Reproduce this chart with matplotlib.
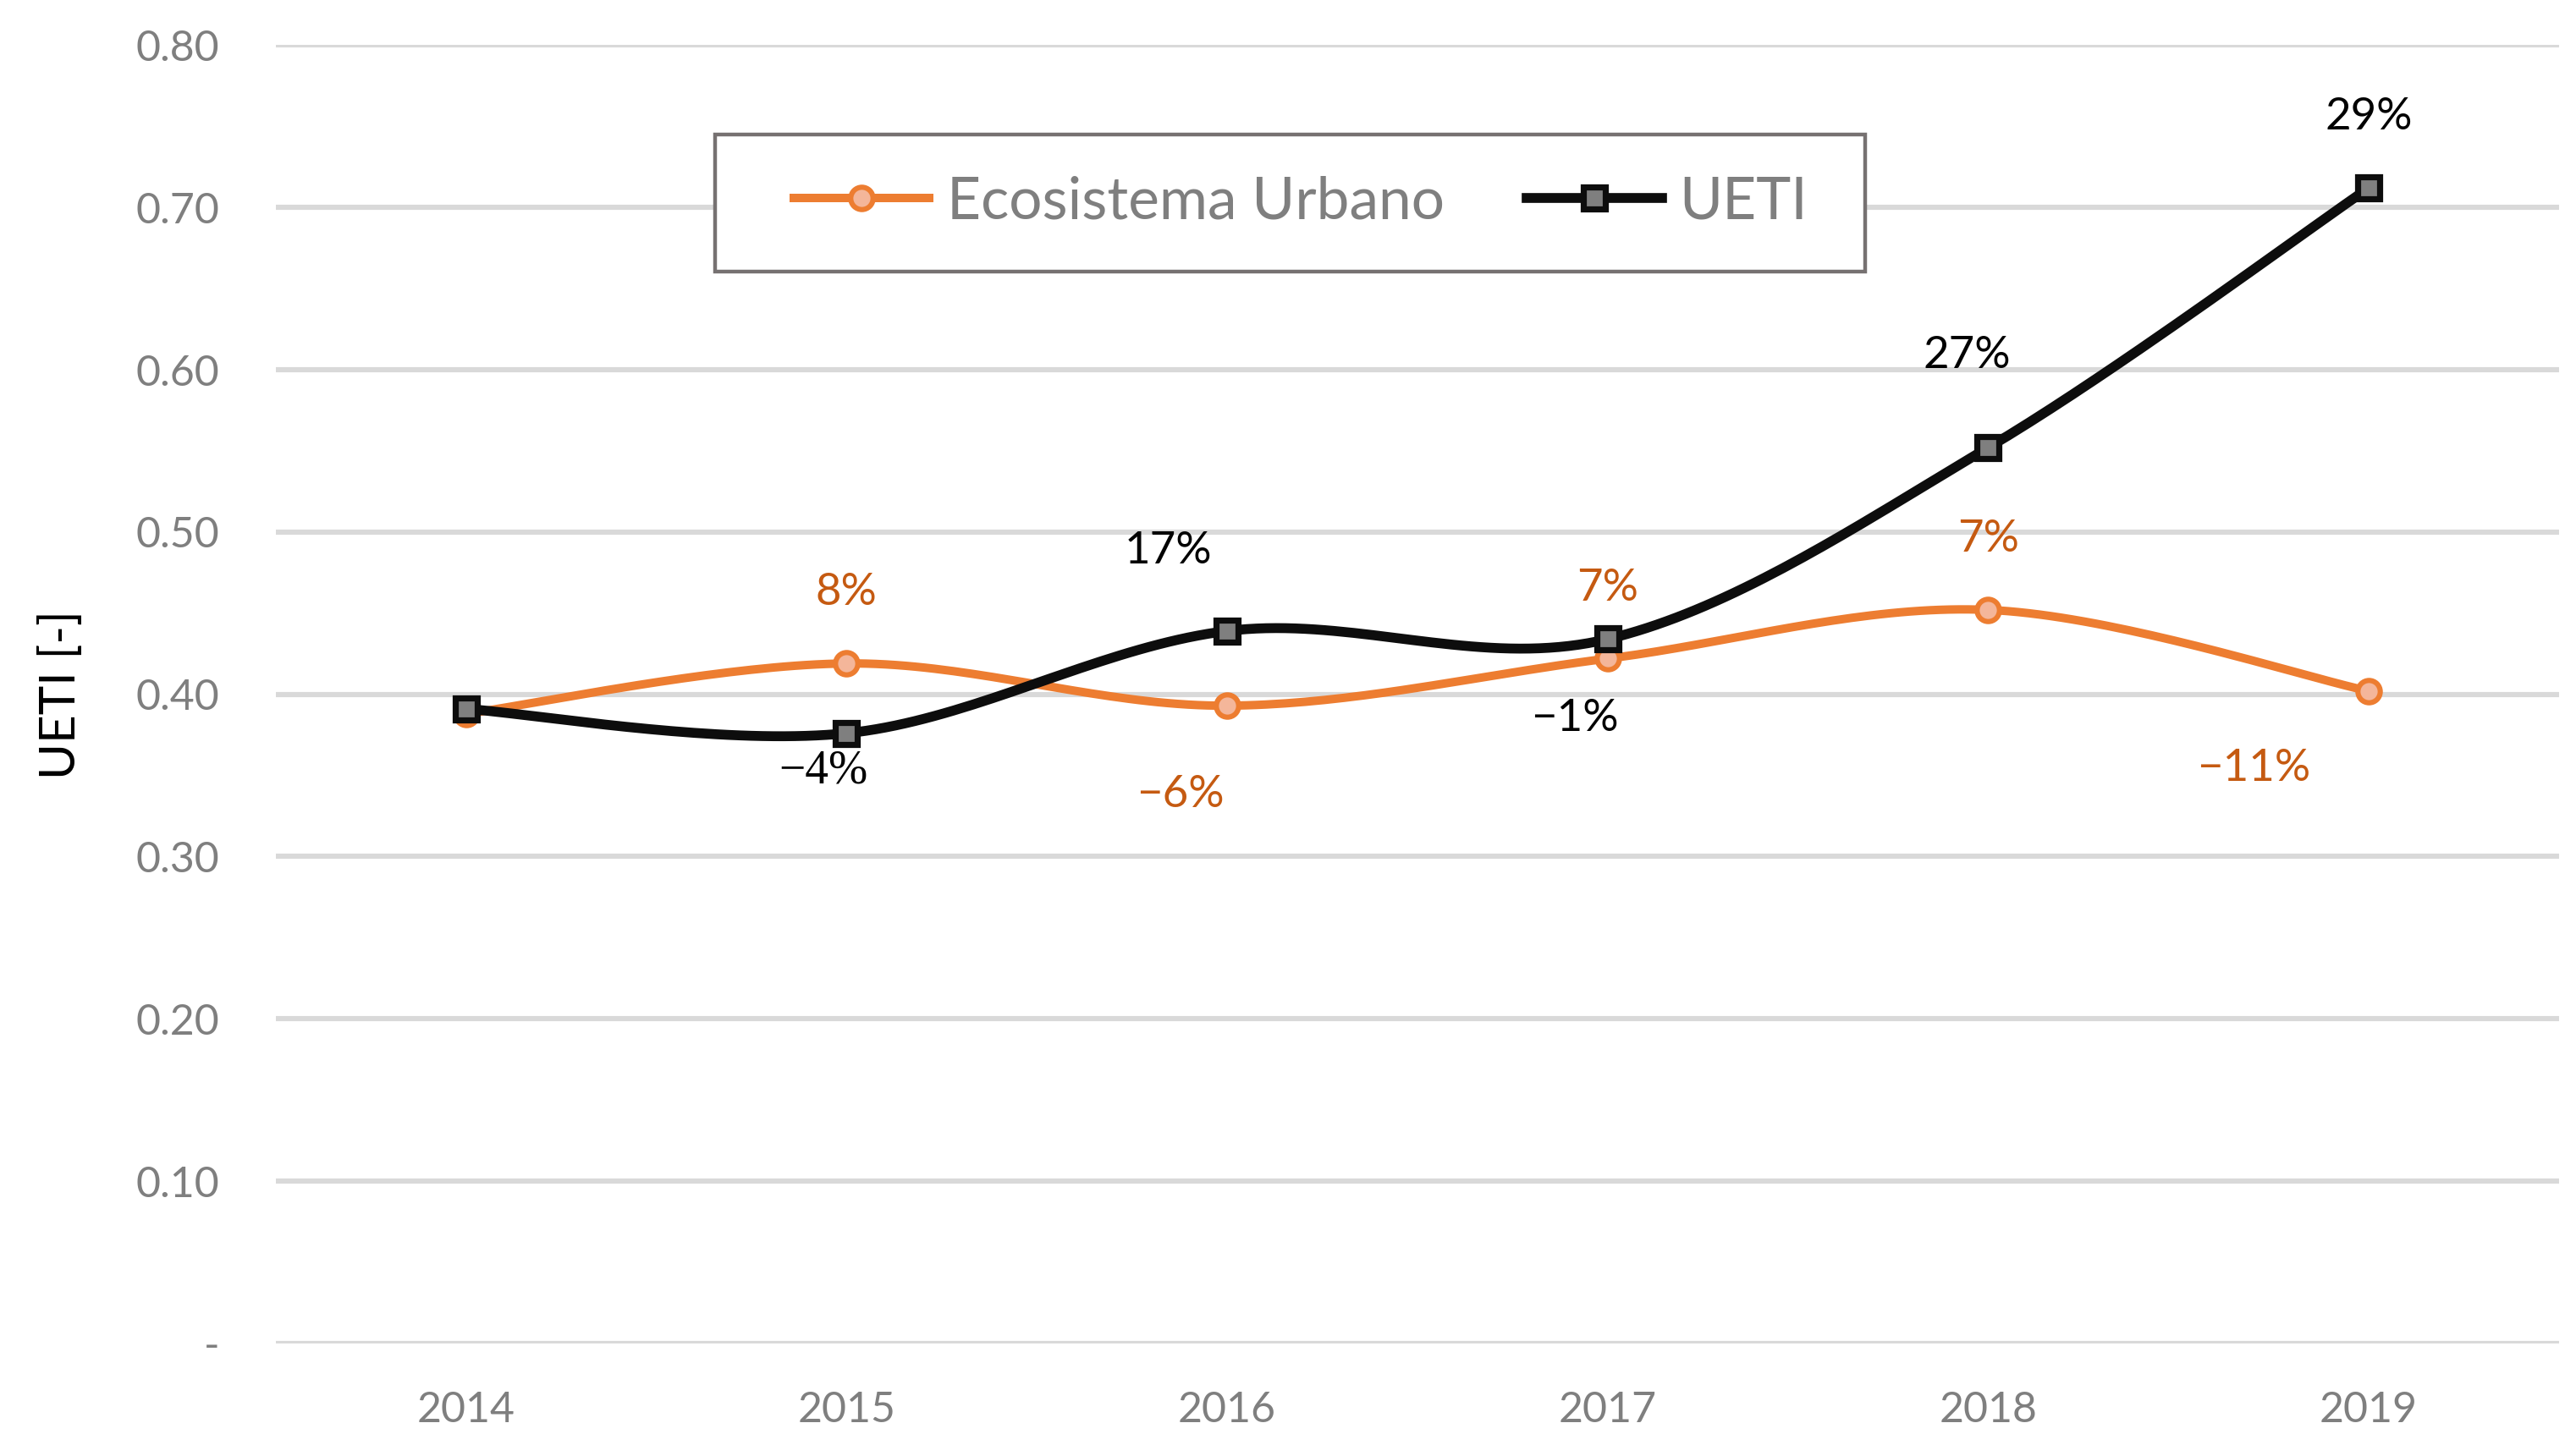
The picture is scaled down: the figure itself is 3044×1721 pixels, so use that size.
"""UETI vs Ecosistema Urbano index, 2014-2019, smoothed lines with change labels."""

import matplotlib

matplotlib.use("Agg")
import matplotlib.pyplot as plt
import numpy as np
from matplotlib.lines import Line2D
from matplotlib.patches import Rectangle


YEARS = ["2014", "2015", "2016", "2017", "2018", "2019"]
ECO = [0.388, 0.419, 0.393, 0.422, 0.452, 0.402]
UETI = [0.391, 0.376, 0.439, 0.434, 0.552, 0.712]
ECO_LABELS = ["", "8%", "\u22126%", "7%", "7%", "\u221211%"]
UETI_LABELS = ["", "\u22124%", "17%", "\u22121%", "27%", "29%"]
Y_TICKS = [0.0, 0.1, 0.2, 0.3, 0.4, 0.5, 0.6, 0.7, 0.8]
Y_TICK_LABELS = ["-", "0.10", "0.20", "0.30", "0.40", "0.50", "0.60", "0.70", "0.80"]

# label offsets in points (dx, dy), style only
ECO_OFFSETS = [(0, 0), (0, 30), (-20, -38), (0, 30), (0, 30), (-49, -33)]
UETI_OFFSETS = [(0, 0), (-10, -16), (-25, 34), (-14, -34), (-9, 39), (0, 30)]
# the source chart renders this one label in a serif face
SERIF_LABELS = {1}

ORANGE = "#ED7D31"
ORANGE_FACE = "#F4B69A"
ORANGE_TEXT = "#C55A11"
BLACK = "#0D0D0D"
GREY_FACE = "#7F7F7F"
TICK_GREY = "#7F7F7F"
GRID = "#D9D9D9"
FONT = "Lato"


def smooth(xs, ys, n=40):
    """Excel-style smoothed line: Catmull-Rom segments drawn as cubic Beziers."""
    pts = np.column_stack([xs, ys]).astype(float)
    out = []
    t = np.linspace(0, 1, n)[:, None]
    for i in range(len(pts) - 1):
        p0 = pts[i - 1] if i > 0 else pts[i]
        p1 = pts[i]
        p2 = pts[i + 1]
        p3 = pts[i + 2] if i + 2 < len(pts) else pts[i + 1]
        c1 = p1 + (p2 - p0) / 6
        c2 = p2 - (p3 - p1) / 6
        seg = ((1 - t) ** 3) * p1 + 3 * ((1 - t) ** 2) * t * c1 + 3 * (1 - t) * t ** 2 * c2 + t ** 3 * p2
        out.append(seg if i == 0 else seg[1:])
    curve = np.vstack(out)
    return curve[:, 0], curve[:, 1]


def main():
    plt.rcParams["font.family"] = [FONT, "DejaVu Sans"]
    fig = plt.figure(figsize=(15.22, 8.605), dpi=200)
    ax = fig.add_axes([0.107, 0.0773, 0.8864, 0.8917])

    x = np.arange(len(YEARS))
    ax.set_xlim(-0.5, len(YEARS) - 0.5)
    ax.set_ylim(0, 0.8)

    for yv in Y_TICKS:
        ax.axhline(yv, color=GRID, lw=2.2, zorder=0)

    ex, ey = smooth(x, ECO)
    ax.plot(ex, ey, color=ORANGE, lw=3.6, solid_capstyle="round", zorder=2)
    ax.plot(x, ECO, ls="none", marker="o", ms=9.5, mfc=ORANGE_FACE, mec=ORANGE, mew=2.2, zorder=3)

    ux, uy = smooth(x, UETI)
    ax.plot(ux, uy, color=BLACK, lw=4.2, solid_capstyle="round", zorder=4)
    ax.plot(x, UETI, ls="none", marker="s", ms=9.5, mfc=GREY_FACE, mec=BLACK, mew=2.6, zorder=5)

    for xi, yv, lab, off in zip(x, ECO, ECO_LABELS, ECO_OFFSETS):
        if lab:
            ax.annotate(lab, (xi, yv), xytext=off, textcoords="offset points",
                        ha="center", va="center", fontsize=19, color=ORANGE_TEXT, zorder=6)
    for i, (xi, yv, lab, off) in enumerate(zip(x, UETI, UETI_LABELS, UETI_OFFSETS)):
        if lab:
            fam = ["Liberation Serif", "DejaVu Serif"] if i in SERIF_LABELS else [FONT, "DejaVu Sans"]
            ax.annotate(lab, (xi, yv), xytext=off, textcoords="offset points", family=fam,
                        ha="center", va="center", fontsize=20 if i in SERIF_LABELS else 19,
                        color="black", zorder=6)

    ax.set_xticks(x)
    ax.set_xticklabels(YEARS)
    ax.set_yticks(Y_TICKS)
    ax.set_yticklabels(Y_TICK_LABELS)
    ax.tick_params(axis="both", length=0, labelsize=18, labelcolor=TICK_GREY)
    ax.tick_params(axis="x", pad=20)
    ax.tick_params(axis="y", pad=24)
    for spine in ax.spines.values():
        spine.set_visible(False)
    ax.set_ylabel("UETI [-]", fontsize=21, color="black", labelpad=22)

    handles = [
        Line2D([], [], color=ORANGE, lw=3.6, marker="o", ms=9.5, mfc=ORANGE_FACE, mec=ORANGE, mew=2.2),
        Line2D([], [], color=BLACK, lw=4.2, marker="s", ms=9.5, mfc=GREY_FACE, mec=BLACK, mew=2.6),
    ]
    leg = ax.legend(handles, ["Ecosistema Urbano", "UETI"], loc="center",
                    bbox_to_anchor=(0.449, 0.879), ncol=2, fontsize=25, frameon=False,
                    handlelength=2.3, handletextpad=0.3, columnspacing=1.4)
    for t in leg.get_texts():
        t.set_color("#7F7F7F")
    # Excel-style legend box, wider than the content
    ax.add_patch(Rectangle((0.1923, 0.8259), 0.504, 0.1055, transform=ax.transAxes,
                           fill=True, facecolor="white", edgecolor="#767171", lw=1.6, zorder=6.5))
    leg.set_zorder(7)

    fig.savefig("out.png", dpi=200)
    plt.close(fig)


if __name__ == "__main__":
    main()
